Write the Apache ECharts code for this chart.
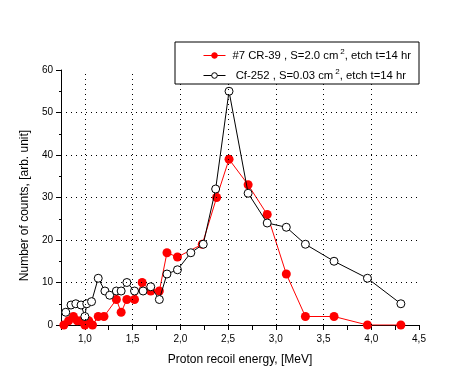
<!DOCTYPE html>
<html><head><meta charset="utf-8">
<script src="https://cdn.jsdelivr.net/npm/echarts@6/dist/echarts.min.js"></script>
<style>html,body{margin:0;padding:0;background:#fff}#c{width:476px;height:378px}</style>
</head><body><div id="c"></div>
<script>
const cr39Energy = [0.78,0.83,0.88,0.92,0.96,1.00,1.04,1.08,1.14,1.20,1.33,1.38,1.44,1.52,1.60,1.69,1.78,1.86,1.97,2.23,2.38,2.51,2.71,2.91,3.11,3.31,3.61,3.96,4.31];
const cr39Counts = [0,1,2,1,1,0,1,0,2,2,6,3,6,6,10,8,8,17,16,19,30,39,33,26,12,2,2,0,0];
const cfEnergy = [0.80,0.855,0.905,0.96,1.00,1.02,1.07,1.14,1.21,1.26,1.33,1.38,1.44,1.52,1.61,1.69,1.78,1.86,1.97,2.11,2.24,2.37,2.51,2.71,2.91,3.11,3.31,3.61,3.96,4.31];
const cfCounts = [3,4.7,5,4.7,2,5,5.5,11,8,7,8,8,10,8,8,9,6,12,13,17,19,32,55,31,24,23,19,15,11,5];
const xGridValues = [1.0,1.5,2.0,2.5,3.0,3.5,4.0];
const yGridValues = [10,20,30,40,50];
const seriesNames = ['#7 CR-39', 'Cf-252'];
const legendLabels = {
  '#7 CR-39': '{a|#7 CR-39 , S=2.0 cm}{s|2}{a|, etch t=14 hr}',
  'Cf-252': '{a| Cf-252 , S=0.03 cm}{s|2}{a|, etch t=14 hr}'
};

const chart = echarts.init(document.getElementById('c'), null, {renderer:'canvas'});
const font = 'Liberation Sans, Arial, sans-serif';
const grid = {left:61, top:70, width:358, height:255};
const dotted = {color:'#000', width:1, type:[1,4]};
chart.setOption({
  animation:false,
  backgroundColor:'#fff',
  grid: grid,
  legend: {
    orient:'vertical', left:175, top:42, z:10,
    padding:[6,8,3,28], itemGap:7, itemWidth:22, itemHeight:7,
    borderColor:'#000', borderWidth:1, backgroundColor:'#fff',
    lineStyle:{width:1},
    itemStyle:{borderWidth:1},
    data: seriesNames,
    formatter: n => legendLabels[n],
    textStyle: {
      fontFamily: font, color:'#000', padding:[0,0,0,2],
      rich: {
        a: {fontFamily: font, fontSize: 11.3, color:'#000'},
        s: {fontFamily: font, fontSize: 8, color:'#000', padding:[0,0,7,2]}
      }
    }
  },
  xAxis: {
    type:'value', min:0.75, max:4.5, interval:0.25,
    name:'Proton recoil energy, [MeV]', nameLocation:'middle', nameGap:29,
    nameTextStyle:{fontFamily:font, fontSize:12, color:'#000'},
    axisLine:{show:true, onZero:false, lineStyle:{color:'#000', width:1}},
    axisTick:{show:true, inside:false, length:5, lineStyle:{color:'#000'}},
    axisLabel:{
      fontFamily:font, fontSize:10, color:'#000', margin:9,
      formatter: v => (Math.abs(v*2 - Math.round(v*2)) < 1e-6 && v > 0.8) ? v.toFixed(1).replace('.', ',') : ''
    },
    splitLine:{show:false}
  },
  yAxis: {
    type:'value', min:0, max:60, interval:10,
    name:'Number of counts, [arb. unit]', nameLocation:'middle', nameGap:27,
    nameTextStyle:{fontFamily:font, fontSize:12, color:'#000', padding:[0,16,0,0]},
    axisLine:{show:true, onZero:false, lineStyle:{color:'#000', width:1}},
    axisTick:{show:true, inside:false, length:5, lineStyle:{color:'#000'}},
    minorTick:{show:true, splitNumber:2, length:2, lineStyle:{color:'#000'}},
    axisLabel:{fontFamily:font, fontSize:10, color:'#000', margin:8},
    splitLine:{show:false}
  },
  series: [
    {
      name: seriesNames[0], type:'line', z:2,
      data: cr39Energy.map((x,i)=>[x, cr39Counts[i]]),
      symbol:'circle', symbolSize:9, showSymbol:true,
      lineStyle:{color:'#ff0000', width:1},
      itemStyle:{color:'#ff0000', borderColor:'#ff0000', borderWidth:0},
      markLine:{
        silent:true, symbol:'none', animation:false,
        label:{show:false},
        lineStyle:dotted,
        data: xGridValues.map(v=>({xAxis:v})).concat(yGridValues.map(v=>({yAxis:v})))
      }
    },
    {
      name: seriesNames[1], type:'line', z:3,
      data: cfEnergy.map((x,i)=>[x, cfCounts[i]]),
      symbol:'circle', symbolSize:8, showSymbol:true,
      lineStyle:{color:'#000', width:1},
      itemStyle:{color:'#fff', borderColor:'#000', borderWidth:1}
    }
  ]
});
</script></body></html>
